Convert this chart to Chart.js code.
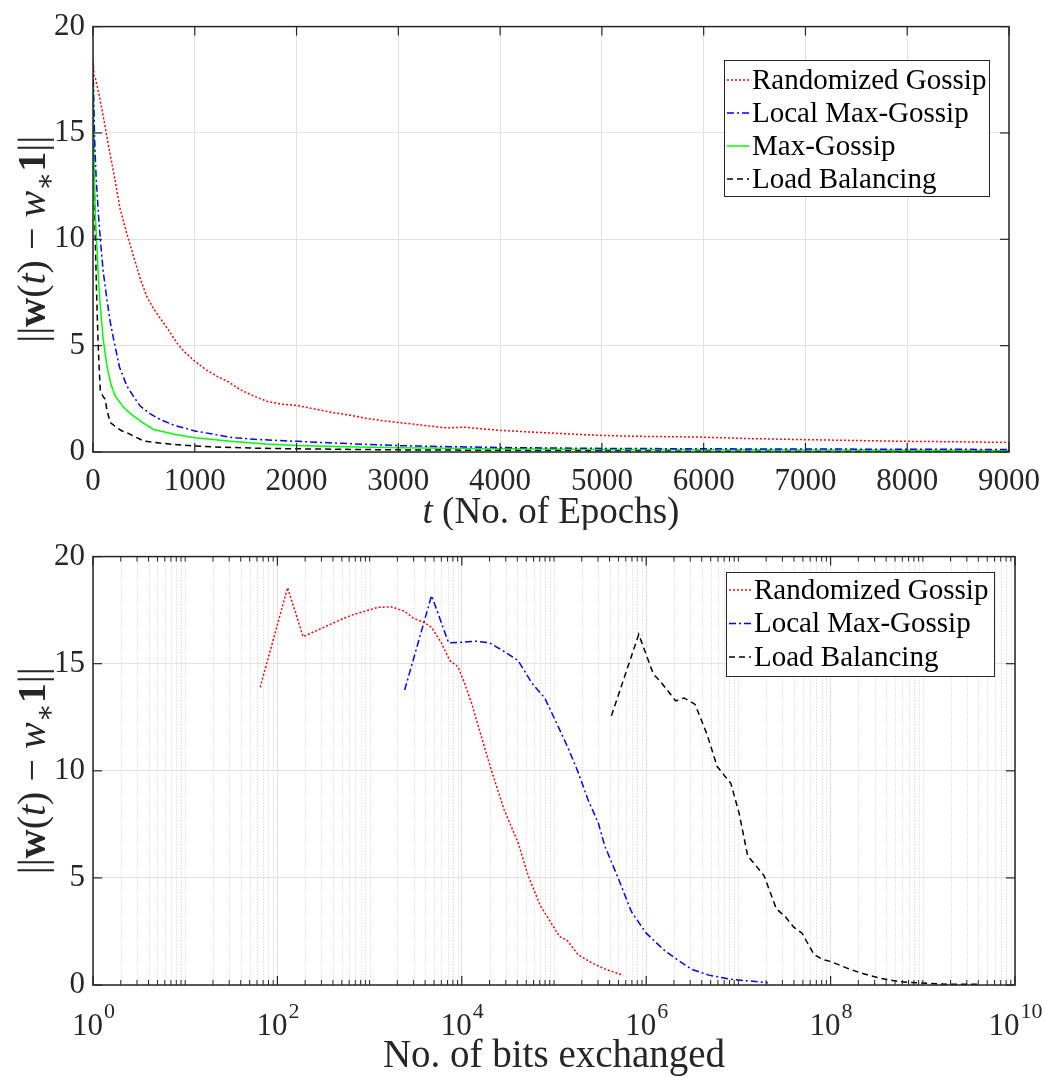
<!DOCTYPE html>
<html>
<head>
<meta charset="utf-8">
<script src="https://cdn.jsdelivr.net/npm/chart.js@4.4.1/dist/chart.umd.min.js"></script>
<style>
  html, body { margin: 0; background: #fff; overflow: hidden; }
  canvas { position: absolute; left: 0; display: block; }
  #top { top: 0; }
  #bottom { top: 530px; }
</style>
</head>
<body>
<canvas id="top" width="1051" height="530"></canvas>
<canvas id="bottom" width="1045" height="548"></canvas>
<script>
// ---- top panel: error vs epochs ----
const tRand = [0, 10, 22, 60, 100, 137, 200, 268, 330, 399, 460, 529, 600, 693, 760, 824, 900, 1000, 1100, 1216, 1330, 1444, 1570, 1706, 1850, 2000, 2150, 2359, 2500, 2686, 2850, 3000, 3250, 3479, 3644, 3800, 4000, 4250, 4502, 4750, 5000, 5310, 5650, 5970, 6460, 7000, 7500, 8000, 8500, 9000];
const yRand = [18.5, 17.7, 17.6, 16.8, 15.8, 14.8, 13.2, 11.4, 10.3, 9.2, 8.2, 7.3, 6.7, 6.07, 5.6, 5.13, 4.7, 4.27, 3.9, 3.57, 3.3, 2.94, 2.65, 2.39, 2.25, 2.19, 2.05, 1.85, 1.75, 1.58, 1.47, 1.39, 1.25, 1.13, 1.17, 1.1, 1.02, 0.95, 0.89, 0.83, 0.78, 0.74, 0.72, 0.7, 0.63, 0.58, 0.54, 0.5, 0.48, 0.45];

const tLocal = [0, 5, 15, 30, 54, 72, 100, 137, 170, 203, 260, 333, 400, 464, 560, 660, 800, 1000, 1200, 1379, 1650, 2000, 2523, 3000, 3500, 4000, 5000, 6000, 7000, 8000, 9000];
const yLocal = [18.2, 17.0, 14.8, 13.0, 11.1, 10.0, 8.5, 7.17, 6.1, 5.29, 4.0, 3.1, 2.6, 2.16, 1.8, 1.53, 1.25, 0.99, 0.82, 0.67, 0.58, 0.5, 0.39, 0.3, 0.25, 0.21, 0.17, 0.15, 0.14, 0.13, 0.12];

const tMax = [0, 5, 12, 22, 39, 55, 72, 100, 137, 175, 219, 300, 399, 500, 595, 800, 1000, 1379, 1700, 2000, 2500, 3000, 4000, 5000, 6000, 7000, 8000, 9000];
const yMax = [17.4, 15.5, 13.5, 11.2, 9.6, 8.0, 6.85, 5.3, 4.04, 3.2, 2.63, 2.1, 1.69, 1.35, 1.06, 0.83, 0.67, 0.49, 0.38, 0.31, 0.25, 0.2, 0.15, 0.12, 0.1, 0.09, 0.08, 0.07];

const tLoad = [0, 8, 20, 35, 49, 60, 72, 100, 121, 135, 170, 220, 280, 333, 420, 497, 600, 800, 1000, 1300, 1600, 2000, 3000, 4000, 5000, 6000, 7000, 8000, 9000];
const yLoad = [16.8, 14.0, 10.5, 7.5, 5.3, 4.0, 2.9, 2.6, 2.47, 2.0, 1.38, 1.2, 1.0, 0.91, 0.7, 0.52, 0.45, 0.35, 0.28, 0.22, 0.18, 0.15, 0.1, 0.08, 0.06, 0.05, 0.04, 0.04, 0.03];

// ---- bottom panel: error vs bits exchanged ----
const bitsRand = [65, 129, 190, 380, 630, 1230, 1740, 2400, 2950, 4000, 4700, 6000, 7400, 9100, 10700, 12900, 13800, 20900, 28800, 40700, 52500, 70800, 89100, 115000, 138000, 182000, 257000, 355000, 562000];
const eRand = [13.9, 18.55, 16.26, 16.85, 17.26, 17.63, 17.65, 17.45, 17.14, 16.9, 16.7, 15.97, 15.15, 14.85, 14.1, 13.1, 12.65, 10.03, 8.18, 6.65, 5.1, 3.72, 3.03, 2.26, 2.1, 1.42, 1.03, 0.75, 0.46];

const bitsLocal = [2400, 4700, 7200, 10000, 14500, 20000, 26900, 40700, 57500, 79400, 112000, 141000, 182000, 234000, 302000, 355000, 501000, 692000, 1.0e6, 1.62e6, 2.45e6, 3.16e6, 4.79e6, 8.5e6, 2.09e7];
const eLocal = [13.77, 18.18, 15.97, 16.0, 16.05, 15.97, 15.65, 15.15, 14.1, 13.4, 12.03, 11.1, 9.95, 8.65, 7.57, 6.5, 4.95, 3.42, 2.42, 1.57, 1.03, 0.72, 0.46, 0.26, 0.11];

const bitsLoad = [4.2e5, 8.3e5, 1.2e6, 1.41e6, 2.09e6, 2.57e6, 3.39e6, 4.57e6, 5.89e6, 8.3e6, 1.02e7, 1.26e7, 1.55e7, 1.9e7, 2.57e7, 3.24e7, 3.98e7, 4.9e7, 6.6e7, 8.3e7, 1.0e8, 1.48e8, 2.09e8, 3.47e8, 5.75e8, 9.5e8, 2.04e9, 3.9e9];
const eLoad = [12.57, 16.37, 14.5, 14.2, 13.26, 13.4, 13.1, 11.7, 10.2, 9.4, 8.0, 6.03, 5.57, 5.1, 3.57, 3.18, 2.7, 2.42, 1.42, 1.18, 1.1, 0.8, 0.57, 0.31, 0.15, 0.09, 0.03, 0.03];

const bitExponents = [0, 2, 4, 6, 8, 10];

const SERIF = '"Liberation Serif", "Times New Roman", "DejaVu Serif", serif';
const INK = '#262626';

function pts(xs, ys) {
  return xs.map((x, i) => ({ x: x, y: ys[i] }));
}

function series(label, xs, ys, color, dash) {
  return {
    label: label,
    data: pts(xs, ys),
    borderColor: color,
    backgroundColor: color,
    borderDash: dash,
    borderWidth: 1.5,
    pointRadius: 0,
    tension: 0,
    fill: false
  };
}

// draws mixed-font text (normal / italic / bold / subscript) centred on cx,cy
function drawRich(ctx, segs, size, cx, cy, rotate) {
  const fontOf = s => {
    const sz = s[1] === 'sub' ? size * 0.7 : size;
    const st = s[1] === 'i' ? 'italic ' : (s[1] === 'b' ? 'bold ' : '');
    return st + sz + 'px ' + SERIF;
  };
  ctx.save();
  ctx.translate(cx, cy);
  if (rotate) ctx.rotate(-Math.PI / 2);
  let total = 0;
  const widths = segs.map(s => {
    ctx.font = fontOf(s);
    const w = ctx.measureText(s[0]).width;
    total += w;
    return w;
  });
  let x = -total / 2;
  ctx.fillStyle = INK;
  ctx.textBaseline = 'alphabetic';
  ctx.textAlign = 'left';
  segs.forEach((s, i) => {
    ctx.font = fontOf(s);
    ctx.fillText(s[0], x, s[1] === 'sub' ? size * 0.22 : 0);
    x += widths[i];
  });
  ctx.restore();
}

const yLabelSegs = [['||', 'n'], ['w', 'b'], ['(', 'n'], ['t', 'i'], [')', 'n'], [' \u2212 ', 'n'], ['w', 'i'], ['\u2217', 'sub'], ['1', 'b'], ['||', 'n']];

function minorBitValues() {
  const out = [];
  for (let e = 0; e < 10; e++) {
    for (let k = 1; k <= 9; k++) {
      if (k === 1 && e % 2 === 0) continue;
      out.push(k * Math.pow(10, e));
    }
  }
  return out;
}

// MATLAB-like box, inward ticks, minor log grid, legend and axis labels
const matlabLook = {
  id: 'matlab',
  beforeDatasetsDraw(chart, args, o) {
    if (!o.logX) return;
    const { ctx, chartArea: a } = chart;
    const sx = chart.scales.x;
    ctx.save();
    ctx.strokeStyle = '#cfcfcf';
    ctx.lineWidth = 1;
    ctx.setLineDash([1, 2]);
    minorBitValues().forEach(v => {
      const x = Math.round(sx.getPixelForValue(v)) + 0.5;
      ctx.beginPath();
      ctx.moveTo(x, a.top);
      ctx.lineTo(x, a.bottom);
      ctx.stroke();
    });
    ctx.restore();
  },
  afterDatasetsDraw(chart, args, o) {
    const { ctx, chartArea: a } = chart;
    const sx = chart.scales.x, sy = chart.scales.y;
    ctx.save();
    ctx.strokeStyle = INK;
    ctx.lineWidth = 1.5;
    ctx.setLineDash([]);
    ctx.strokeRect(a.left, a.top, a.right - a.left, a.bottom - a.top);

    const tick = (x1, y1, x2, y2) => {
      ctx.beginPath();
      ctx.moveTo(x1, y1);
      ctx.lineTo(x2, y2);
      ctx.stroke();
    };
    ctx.lineWidth = 1.2;
    sx.ticks.forEach(t => {
      const x = sx.getPixelForValue(t.value);
      tick(x, a.bottom, x, a.bottom - 9);
      tick(x, a.top, x, a.top + 9);
    });
    sy.ticks.forEach(t => {
      const y = sy.getPixelForValue(t.value);
      tick(a.left, y, a.left + 9, y);
      tick(a.right, y, a.right - 9, y);
    });
    if (o.logX) {
      ctx.lineWidth = 1;
      minorBitValues().forEach(v => {
        const x = sx.getPixelForValue(v);
        tick(x, a.bottom, x, a.bottom - 5);
        tick(x, a.top, x, a.top + 5);
      });
      // 10^n tick labels
      ctx.fillStyle = INK;
      ctx.textBaseline = 'alphabetic';
      ctx.textAlign = 'left';
      bitExponents.forEach(e => {
        const x = sx.getPixelForValue(Math.pow(10, e));
        ctx.font = '31px ' + SERIF;
        const wb = ctx.measureText('10').width;
        ctx.font = '22px ' + SERIF;
        const we = ctx.measureText(String(e)).width;
        const x0 = x - (wb + we) / 2;
        ctx.font = '31px ' + SERIF;
        ctx.fillText('10', x0, a.bottom + 50);
        ctx.font = '22px ' + SERIF;
        ctx.fillText(String(e), x0 + wb + 1, a.bottom + 33);
      });
    }

    // legend
    const L = o.legend;
    ctx.fillStyle = '#fff';
    ctx.fillRect(L.x, L.y, L.w, L.h);
    ctx.strokeStyle = INK;
    ctx.lineWidth = 1;
    ctx.strokeRect(L.x + 0.5, L.y + 0.5, L.w, L.h);
    ctx.font = '29px ' + SERIF;
    ctx.textBaseline = 'middle';
    ctx.textAlign = 'left';
    chart.data.datasets.forEach((ds, i) => {
      const y = L.firstRow + i * L.rowH;
      ctx.strokeStyle = ds.borderColor;
      ctx.lineWidth = 1.5;
      ctx.setLineDash(ds.borderDash || []);
      tick(L.x + 3, y, L.x + 25, y);
      ctx.setLineDash([]);
      ctx.fillStyle = '#000';
      ctx.fillText(ds.label, L.x + 28, y + 1);
    });
    ctx.restore();

    // axis labels
    const cyMid = (a.top + a.bottom) / 2;
    drawRich(ctx, yLabelSegs, 40, 45, cyMid, true);
    drawRich(ctx, o.xLabel, o.xLabelSize, (a.left + a.right) / 2, o.xLabelY, false);
  }
};

Chart.defaults.font.family = SERIF;
Chart.defaults.color = INK;
Chart.defaults.animation = false;

function yScale() {
  return {
    min: 0, max: 20,
    ticks: { stepSize: 5, font: { size: 31 }, color: INK, padding: 8 },
    grid: { color: '#e2e2e2', lineWidth: 1, drawTicks: false },
    border: { display: false },
    afterFit: s => { s.width = 93; }
  };
}

new Chart(document.getElementById('top'), {
  type: 'line',
  data: {
    datasets: [
      series('Randomized Gossip', tRand, yRand, '#ff0000', [2, 2]),
      series('Local Max-Gossip', tLocal, yLocal, '#0000ff', [7, 3, 2, 3]),
      series('Max-Gossip', tMax, yMax, '#00ff00', []),
      series('Load Balancing', tLoad, yLoad, '#000000', [6, 4])
    ]
  },
  options: {
    responsive: false,
    devicePixelRatio: 1,
    layout: { padding: { top: 20, right: 36, left: 0, bottom: 0 } },
    scales: {
      x: {
        type: 'linear', min: 0, max: 9000,
        ticks: { stepSize: 1000, font: { size: 31 }, color: INK, padding: 11, maxRotation: 0, callback: v => String(v) },
        grid: { color: '#e2e2e2', lineWidth: 1, drawTicks: false },
        border: { display: false },
        afterFit: s => { s.height = 78; }
      },
      y: yScale()
    },
    plugins: {
      legend: { display: false },
      tooltip: { enabled: false },
      matlab: {
        logX: false,
        legend: { x: 724, y: 60, w: 265, h: 136, firstRow: 80, rowH: 33 },
        xLabel: [['t', 'i'], [' (No. of Epochs)', 'n']],
        xLabelSize: 37,
        xLabelY: 523
      }
    }
  },
  plugins: [matlabLook]
});

new Chart(document.getElementById('bottom'), {
  type: 'line',
  data: {
    datasets: [
      series('Randomized Gossip', bitsRand, eRand, '#ff0000', [2, 2]),
      series('Local Max-Gossip', bitsLocal, eLocal, '#0000ff', [7, 3, 2, 3]),
      series('Load Balancing', bitsLoad, eLoad, '#000000', [6, 4])
    ]
  },
  options: {
    responsive: false,
    devicePixelRatio: 1,
    layout: { padding: { top: 20, right: 30, left: 0, bottom: 0 } },
    scales: {
      x: {
        type: 'logarithmic', min: 1, max: 1e10,
        afterBuildTicks: s => {
          s.ticks = bitExponents.map(e => ({ value: Math.pow(10, e), major: true }));
        },
        ticks: { display: false },
        grid: { color: '#e2e2e2', lineWidth: 1, drawTicks: false },
        border: { display: false },
        afterFit: s => { s.height = 93; }
      },
      y: yScale()
    },
    plugins: {
      legend: { display: false },
      tooltip: { enabled: false },
      matlab: {
        logX: true,
        legend: { x: 726, y: 42, w: 268, h: 104, firstRow: 60, rowH: 33.5 },
        xLabel: [['No. of bits exchanged', 'n']],
        xLabelSize: 39,
        xLabelY: 537
      }
    }
  },
  plugins: [matlabLook]
});
</script>
</body>
</html>
